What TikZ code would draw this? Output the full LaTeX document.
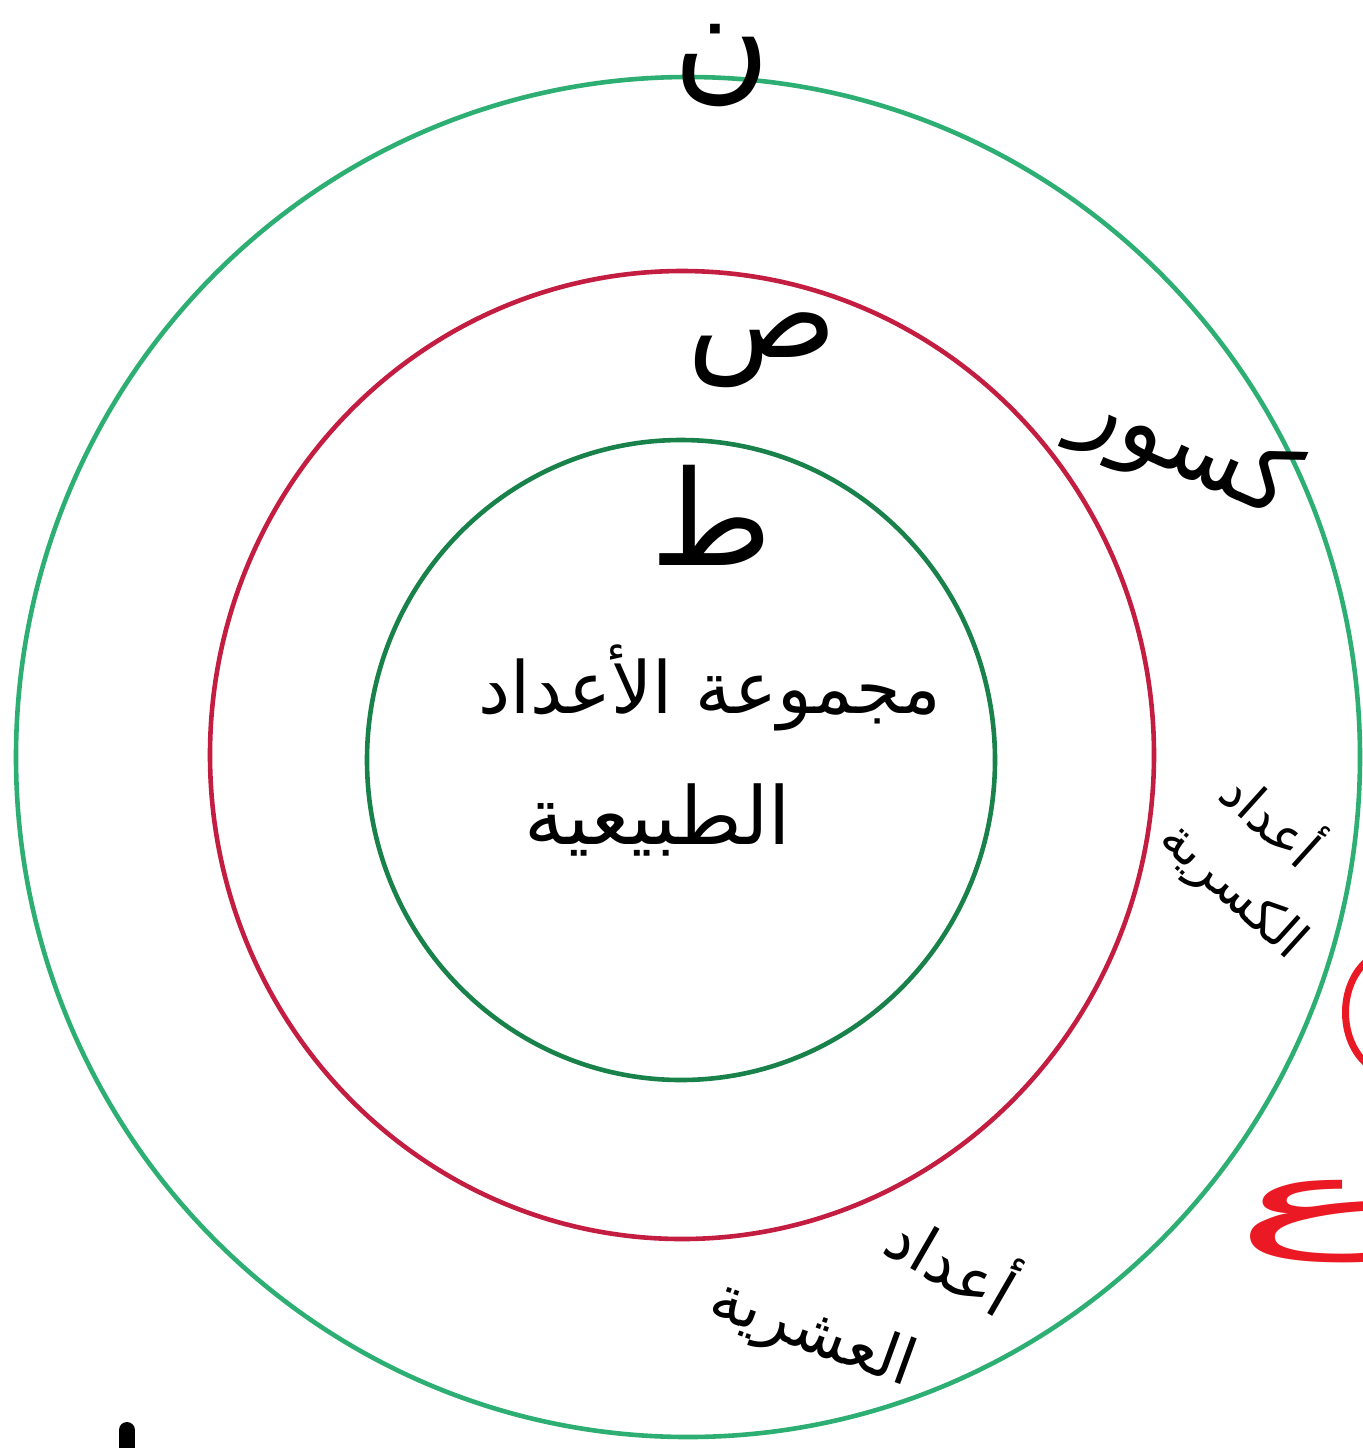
\documentclass[tikz,border=0pt]{standalone}
\usepackage{fontspec}
\newfontfamily\arabicfont[Script=Arabic]{DejaVu Sans}
\TeXXeTstate=1
\definecolor{outergreen}{RGB}{45,175,115}
\definecolor{innergreen}{RGB}{25,130,75}
\definecolor{ringred}{RGB}{195,30,65}
\definecolor{markred}{RGB}{235,25,35}
\tikzset{
  ring/.style={line width=2.3pt},
  lbl/.style={inner sep=0pt, text=black, font=\arabicfont},
}
\begin{document}
\begin{tikzpicture}[x=0.5pt,y=-0.5pt]
\useasboundingbox (0,0) rectangle (1363,1448);
\fill[white] (0,0) rectangle (1363,1448);
\clip (0,0) rectangle (1363,1448);
% circles
\draw[ring, outergreen] (688,757) ellipse [x radius=336pt, y radius=340pt];
\draw[ring, ringred] (682,755) ellipse [x radius=236pt, y radius=242pt];
\draw[ring, innergreen] (681,760) ellipse [x radius=157pt, y radius=160pt];
% set labels
\node[lbl, font=\arabicfont\fontsize{66}{76}\selectfont] (N) at (722,66) {\beginR ن\endR};
\node[lbl, font=\arabicfont\fontsize{62}{70}\selectfont] (S) at (762,350) {\beginR ص\endR};
\node[lbl, font=\arabicfont\fontsize{66}{76}\selectfont] (T) at (712,515) {\beginR ط\endR};
% inner text
\node[lbl, font=\arabicfont\fontsize{36}{44}\selectfont] (inner1) at (710,688) {\beginR مجموعة الأعداد\endR};
\node[lbl, font=\arabicfont\fontsize{40}{46}\selectfont] (inner2) at (658,820) {\beginR الطبيعية\endR};
% ring labels
\node[lbl, font=\arabicfont\fontsize{48}{56}\selectfont, rotate=-24] (kusur) at (1185,450) {\beginR كسور\endR};
\node[lbl, font=\arabicfont\fontsize{26}{30}\selectfont, rotate=-42] (kasriya1) at (1275,815) {\beginR أعداد\endR};
\node[lbl, font=\arabicfont\fontsize{26}{30}\selectfont, rotate=-42] (kasriya2) at (1232,892) {\beginR الكسرية\endR};
\node[lbl, font=\arabicfont\fontsize{32}{40}\selectfont, rotate=-30] (ashriya1) at (955,1258) {\beginR أعداد\endR};
\node[lbl, font=\arabicfont\fontsize{32}{40}\selectfont, rotate=-20] (ashriya2) at (812,1335) {\beginR العشرية\endR};
% red marks at right edge
\node[lbl, text=markred, font=\arabicfont\fontsize{54}{60}\selectfont, xscale=2.6] (ain) at (1318,1222) {\beginR ع\endR};
\draw[markred, line width=3.5pt, line cap=round] (1368,960) .. controls (1338,985) and (1338,1040) .. (1368,1065);
% black stroke bottom left
\draw[black, line width=8pt, line cap=round] (127,1430) -- (127,1460);
\end{tikzpicture}
\end{document}
